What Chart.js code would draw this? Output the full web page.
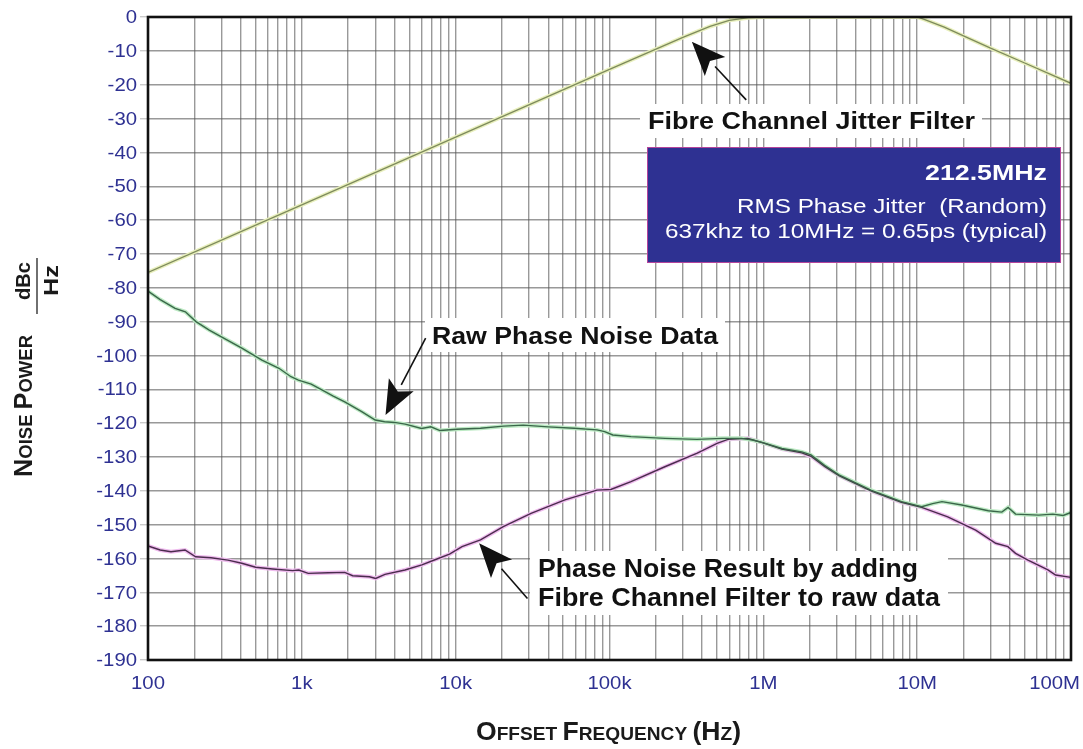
<!DOCTYPE html>
<html>
<head>
<meta charset="utf-8">
<script src="https://cdn.jsdelivr.net/npm/chart.js@4/dist/chart.umd.min.js"></script>
<style>
  html, body { margin: 0; padding: 0; background: #fff; }
  #wrap { width: 1083px; height: 749px; position: relative; }
</style>
</head>
<body>
<div id="wrap"><canvas id="noiseChart"></canvas></div>
<script>
// axis ticks
const xTickValues = [1e2, 1e3, 1e4, 1e5, 1e6, 1e7, 1e8];
const xTickLabels = ["100", "1k", "10k", "100k", "1M", "10M", "100M"];
const yMin = -190;
const yMax = 0;
const yStep = 10;

// Fibre Channel jitter filter (dB)
const filterFreq = [100, 1000, 10000, 100000, 300000, 450000, 600000, 800000, 1e6, 1e7, 1.1e7, 1.5e7, 2e7, 3e7, 5e7, 1e8];
const filterDb = [-75.5, -55.5, -35.5, -15.5, -6, -2.8, -1, -0.2, 0, 0, -0.6, -3, -5.6, -9.2, -13.6, -19.6];

// raw phase noise data (dBc/Hz)
const rawFreq = [100, 120, 150, 175, 205, 250, 300, 410, 550, 710, 850, 950, 1150, 1350, 1600, 1900, 2450, 3000,
  3450, 4000, 4700, 6000, 6900, 7900, 10200, 14500, 20500, 27500, 40000, 59000, 83000, 93000, 105000, 138000,
  230000, 370000, 540000, 720000, 850000, 980000, 1320000, 1780000, 2040000, 2500000, 3100000, 5000000,
  7900000, 10700000, 12600000, 14500000, 19500000, 29000000, 35500000, 39000000, 43600000, 61700000,
  76000000, 89000000, 100000000];
const rawDb = [-81, -83.5, -86.1, -87.1, -90, -92.5, -94.5, -97.9, -101.4, -103.8, -106.3, -107.3, -108.5, -110.2,
  -112, -113.7, -116.6, -119.1, -119.6, -119.8, -120.3, -121.6, -121.1, -122.2, -121.8, -121.5, -120.9, -120.6,
  -121.1, -121.5, -122, -122.5, -123.5, -124, -124.5, -124.8, -124.5, -124.5, -125, -125.7, -127.5, -128.5,
  -129.4, -132.5, -135.3, -139.8, -143.2, -144.7, -143.8, -143.2, -144.2, -145.9, -146.3, -144.9, -146.9,
  -147.2, -146.9, -147.3, -146.4];

// phase noise result with filter applied (dBc/Hz)
const resultFreq = [100, 120, 141, 174, 204, 257, 331, 407, 501, 646, 871, 955, 1100, 1480, 1900, 2140, 2750, 3020,
  3470, 4680, 6030, 7410, 9120, 11000, 14500, 20400, 30900, 51300, 83000, 102000, 138000, 229000, 372000,
  500000, 589000, 794000, 1020000, 1320000, 1780000, 2040000, 2500000, 3100000, 5000000, 7900000, 10700000,
  15800000, 24000000, 32400000, 38900000, 43600000, 52500000, 70800000, 79400000, 100000000];
const resultDb = [-156.3, -157.5, -158, -157.5, -159.5, -159.8, -160.5, -161.4, -162.6, -163.1, -163.6, -163.4, -164.4,
  -164.2, -164.1, -165.1, -165.4, -165.9, -164.7, -163.4, -161.9, -160.3, -158.7, -156.5, -154.5, -150.6,
  -146.7, -142.7, -139.8, -139.6, -137.3, -132.9, -128.9, -126, -124.8, -124.5, -126, -127.7, -128.8, -129.8,
  -132.8, -135.5, -140, -143.4, -144.9, -147.7, -151.6, -155.5, -156.5, -158.5, -160.5, -163.4, -164.9, -165.6];

const toPoints = (f, d) => f.map((x, i) => ({ x: x, y: d[i] }));

// vertical grid: 1..9 per decade
const xGridValues = [];
for (let e = 2; e < 8; e++) {
  for (let m = 1; m < 10; m++) xGridValues.push(m * Math.pow(10, e));
}
xGridValues.push(1e8);

const FONT = '"Liberation Sans", Arial, Helvetica, sans-serif';
const TICK_BLUE = "#2e3192";

// text squeezed / stretched to a given width
function fitText(ctx, text, left, baseline, width, font) {
  ctx.save();
  ctx.font = font;
  const sx = width / ctx.measureText(text).width;
  ctx.translate(left, baseline);
  ctx.scale(sx, 1);
  ctx.textAlign = "left";
  ctx.fillText(text, 0, 0);
  ctx.restore();
}

function stretchText(ctx, text, x, y, font, sx, align) {
  ctx.save();
  ctx.font = font;
  const w = ctx.measureText(text).width * sx;
  let left = x;
  if (align === "right") left = x - w;
  if (align === "center") left = x - w / 2;
  ctx.translate(left, y);
  ctx.scale(sx, 1);
  ctx.textAlign = "left";
  ctx.fillText(text, 0, 0);
  ctx.restore();
}

// small caps title, segments of [text, isBig]
function smallCaps(ctx, parts, width, bigFont, smallFont) {
  let total = 0;
  parts.forEach((p) => {
    ctx.font = p[1] ? bigFont : smallFont;
    total += ctx.measureText(p[0]).width;
  });
  const sx = width / total;
  ctx.save();
  ctx.scale(sx, 1);
  let x = 0;
  parts.forEach((p) => {
    ctx.font = p[1] ? bigFont : smallFont;
    ctx.fillText(p[0], x, 0);
    x += ctx.measureText(p[0]).width;
  });
  ctx.restore();
}

function arrow(ctx, x0, y0, x1, y1) {
  const ang = Math.atan2(y1 - y0, x1 - x0);
  const len = 34, half = 14;
  const bx = x1 - len * Math.cos(ang), by = y1 - len * Math.sin(ang);
  ctx.save();
  ctx.strokeStyle = "#111";
  ctx.lineWidth = 1.6;
  ctx.beginPath();
  ctx.moveTo(x0, y0);
  ctx.lineTo(bx, by);
  ctx.stroke();
  ctx.fillStyle = "#111";
  ctx.beginPath();
  ctx.moveTo(x1, y1);
  ctx.lineTo(bx + half * Math.sin(ang), by - half * Math.cos(ang));
  ctx.lineTo(x1 - 0.78 * len * Math.cos(ang), y1 - 0.78 * len * Math.sin(ang));
  ctx.lineTo(bx - half * Math.sin(ang), by + half * Math.cos(ang));
  ctx.closePath();
  ctx.fill();
  ctx.restore();
}

// arrows: [tailFreq, tailDb, tipFreq, tipDb]
const arrows = [
  [774000, -24.5, 343000, -7.3],
  [6380, -94.9, 3500, -117.6],
  [29300, -171.8, 14200, -155.5]
];

const decorPlugin = {
  id: "decor",
  afterDatasetsDraw(chart) {
    const ctx = chart.ctx;
    const a = chart.chartArea;
    const xs = chart.scales.x, ys = chart.scales.y;

    // white label backgrounds
    ctx.save();
    ctx.fillStyle = "#fff";
    ctx.fillRect(640, 104, 342, 34);
    ctx.fillRect(425, 318, 300, 34);
    ctx.fillRect(530, 551, 418, 64);
    ctx.restore();

    arrows.forEach((r) => {
      arrow(ctx, xs.getPixelForValue(r[0]), ys.getPixelForValue(r[1]),
        xs.getPixelForValue(r[2]), ys.getPixelForValue(r[3]));
    });

    ctx.save();
    ctx.fillStyle = "#111";
    ctx.textBaseline = "alphabetic";
    fitText(ctx, "Fibre Channel Jitter Filter", 648, 129, 327, "bold 24px " + FONT);
    fitText(ctx, "Raw Phase Noise Data", 432, 344, 286, "bold 24px " + FONT);
    fitText(ctx, "Phase Noise Result by adding", 538, 577, 380, "bold 25px " + FONT);
    fitText(ctx, "Fibre Channel Filter to raw data", 538, 606, 402, "bold 25px " + FONT);
    ctx.restore();

    // info box
    ctx.save();
    ctx.fillStyle = "#2e3192";
    ctx.fillRect(647, 147, 414, 116);
    ctx.strokeStyle = "#b4449c";
    ctx.lineWidth = 1;
    ctx.strokeRect(647.5, 147.5, 413, 115);
    ctx.fillStyle = "#fff";
    fitText(ctx, "212.5MHz", 1047 - 122, 180, 122, "bold 22px " + FONT);
    fitText(ctx, "RMS Phase Jitter  (Random)", 1047 - 310, 212.5, 310, "21px " + FONT);
    fitText(ctx, "637khz to 10MHz = 0.65ps (typical)", 1047 - 382, 237.5, 382, "21px " + FONT);
    ctx.restore();

    // frame
    ctx.save();
    ctx.strokeStyle = "#111";
    ctx.lineWidth = 2.6;
    ctx.strokeRect(a.left, a.top, a.right - a.left, a.bottom - a.top);
    ctx.restore();
  },
  afterDraw(chart) {
    const ctx = chart.ctx;
    const xs = chart.scales.x, ys = chart.scales.y;
    ctx.save();
    ctx.fillStyle = TICK_BLUE;
    ctx.textBaseline = "middle";
    // y tick labels
    ys.ticks.forEach((t) => {
      stretchText(ctx, String(t.value), 137, ys.getPixelForValue(t.value) + 1, "19px " + FONT, 1.07, "right");
    });
    // x tick labels
    xTickValues.forEach((v, i) => {
      ctx.font = "19px " + FONT;
      const w = ctx.measureText(xTickLabels[i]).width * 1.07;
      let cx = xs.getPixelForValue(v);
      if (cx + w / 2 > 1080) cx = 1080 - w / 2;
      stretchText(ctx, xTickLabels[i], cx, 684, "19px " + FONT, 1.07, "center");
    });
    ctx.restore();

    // axis titles
    ctx.save();
    ctx.fillStyle = "#1a1a1a";
    ctx.textBaseline = "alphabetic";
    ctx.translate(476, 740);
    smallCaps(ctx, [["O", 1], ["FFSET ", 0], ["F", 1], ["REQUENCY ", 0], ["(H", 1], ["Z", 0], [")", 1]],
      265, "bold 25px " + FONT, "bold 18px " + FONT);
    ctx.restore();

    ctx.save();
    ctx.fillStyle = "#1a1a1a";
    ctx.translate(32, 477);
    ctx.rotate(-Math.PI / 2);
    smallCaps(ctx, [["N", 1], ["OISE ", 0], ["P", 1], ["OWER", 0]], 142, "bold 26px " + FONT, "bold 19px " + FONT);
    ctx.restore();

    ctx.save();
    ctx.fillStyle = "#1a1a1a";
    ctx.translate(30, 300);
    ctx.rotate(-Math.PI / 2);
    fitText(ctx, "dBc", 0, 0, 38, "bold 21px " + FONT);
    ctx.restore();
    ctx.save();
    ctx.fillStyle = "#1a1a1a";
    ctx.translate(58, 296);
    ctx.rotate(-Math.PI / 2);
    fitText(ctx, "Hz", 0, 0, 31, "bold 21px " + FONT);
    ctx.restore();
    ctx.save();
    ctx.strokeStyle = "#333";
    ctx.lineWidth = 1.4;
    ctx.beginPath();
    ctx.moveTo(37, 258);
    ctx.lineTo(37, 314);
    ctx.stroke();
    ctx.restore();
  }
};

const lineSet = (f, d, color, width) => ({
  data: toPoints(f, d),
  borderColor: color,
  borderWidth: width,
  pointRadius: 0,
  tension: 0,
  fill: false
});

// Chart.js paints the first dataset on top, so the dark cores come first
const ctx = document.getElementById("noiseChart").getContext("2d");
new Chart(ctx, {
  type: "line",
  data: {
    datasets: [
      lineSet(filterFreq, filterDb, "#7d8a5c", 1.3),
      lineSet(rawFreq, rawDb, "#3a6649", 1.4),
      lineSet(resultFreq, resultDb, "#4a2c4d", 1.4),
      lineSet(filterFreq, filterDb, "#e8efbc", 4),
      lineSet(rawFreq, rawDb, "#bdeac4", 4),
      lineSet(resultFreq, resultDb, "#efbcee", 4)
    ]
  },
  options: {
    responsive: true,
    maintainAspectRatio: false,
    animation: false,
    layout: { padding: { top: 17, right: 12, left: 0, bottom: 0 } },
    plugins: { legend: { display: false }, tooltip: { enabled: false } },
    scales: {
      x: {
        type: "logarithmic",
        min: 100,
        max: 1e8,
        afterBuildTicks: (scale) => {
          scale.ticks = xGridValues.map((v) => ({ value: v }));
        },
        afterFit: (scale) => {
          scale.height = 89;
          scale.paddingLeft = 0;
          scale.paddingRight = 0;
        },
        ticks: { display: false, autoSkip: false },
        grid: { color: "rgba(85,85,85,0.6)", lineWidth: 1.4, drawTicks: false },
        border: { display: false }
      },
      y: {
        min: yMin,
        max: yMax,
        ticks: { display: false, stepSize: yStep },
        afterFit: (scale) => {
          scale.width = 148;
          scale.paddingTop = 0;
          scale.paddingBottom = 0;
        },
        grid: { color: "rgba(85,85,85,0.6)", lineWidth: 1.4, tickLength: 8, tickColor: "rgba(150,150,150,0.5)" },
        border: { display: false }
      }
    }
  },
  plugins: [decorPlugin]
});
</script>
</body>
</html>
